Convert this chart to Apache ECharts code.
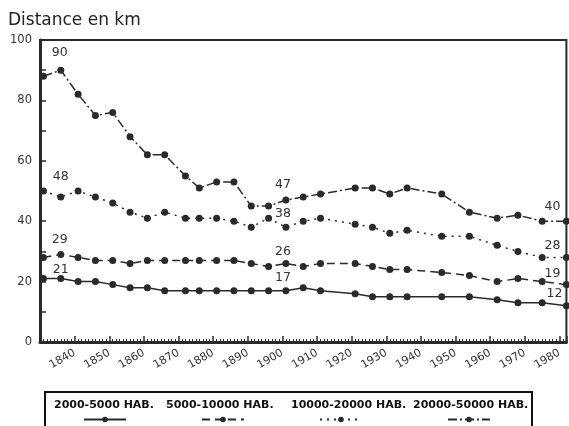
<!DOCTYPE html>
<html>
<head>
<meta charset="utf-8">
<script src="https://cdn.jsdelivr.net/npm/echarts@6/dist/echarts.min.js"></script>
<style>
html,body{margin:0;padding:0;background:#fff;}
#chart{width:569px;height:426px;}
</style>
</head>
<body>
<div id="chart"></div>
<script>
// Census years (x values)
const years = [1831,1836,1841,1846,1851,1856,1861,1866,1872,1876,1881,1886,1891,1896,1901,1906,1911,1921,1926,1931,1936,1946,1954,1962,1968,1975,1982];
// Series names
const seriesNames = ['2000-5000 HAB.', '5000-10000 HAB.', '10000-20000 HAB.', '20000-50000 HAB.'];
// Distance in km
const s2000_5000   = [21,21,20,20,19,18,18,17,17,17,17,17,17,17,17,18,17,16,15,15,15,15,15,14,13,13,12];
const s5000_10000  = [28,29,28,27,27,26,27,27,27,27,27,27,26,25,26,25,26,26,25,24,24,23,22,20,21,20,19];
const s10000_20000 = [50,48,50,48,46,43,41,43,41,41,41,40,38,41,38,40,41,39,38,36,37,35,35,32,30,28,28];
const s20000_50000 = [88,90,82,75,76,68,62,62,55,51,53,53,45,45,47,48,49,51,51,49,51,49,43,41,42,40,40];
// Tick labels
const yTickLabels = [0,20,40,60,80,100];
const xTickLabels = [1840,1850,1860,1870,1880,1890,1900,1910,1920,1930,1940,1950,1960,1970,1980];
// Indices of labelled points
const labelledIdx = [1, 14, 26];

const INK = '#2a2a2a';
const FONT = 'DejaVu Sans';

// label offsets per series (style only)
const labelOffsets = [
  [[0,-9],[-3,-13],[-12,-12]],
  [[-1,-15],[-3,-12],[-14,-11]],
  [[0,-20],[-3,-13],[-14,-12]],
  [[-1,-17],[-3,-15],[-14,-14]]
];
const dashTypes = ['solid', [8,5], [2,5], [9,3,2,3]];
const allValues = [s2000_5000, s5000_10000, s10000_20000, s20000_50000];

function buildData(vals, si) {
  return years.map((yr, i) => {
    const d = { value: [yr, vals[i]] };
    const k = labelledIdx.indexOf(i);
    if (k >= 0) {
      d.label = {
        show: true, position: 'inside', offset: labelOffsets[si][k],
        formatter: String(vals[i]), color: '#333', fontSize: 12.5, fontFamily: FONT
      };
    }
    return d;
  });
}

const series = allValues.map((vals, si) => ({
  name: seriesNames[si],
  type: 'line',
  data: buildData(vals, si),
  symbol: 'circle',
  symbolSize: 7,
  clip: false,
  itemStyle: { color: INK },
  lineStyle: { color: INK, width: 1.5, type: dashTypes[si] },
  label: { show: false },
  emphasis: { disabled: true },
  animation: false
}));

const textLeft = [48, 160, 285, 407];
const iconCenter = [104, 222, 340, 468];
const legends = [];
seriesNames.forEach((n, i) => {
  legends.push({
    data: [n], left: textLeft[i], top: 400, padding: 0,
    itemWidth: 0, itemHeight: 0, selectedMode: false,
    textStyle: { fontFamily: FONT, fontWeight: 'bold', fontSize: 11, color: '#111' }
  });
  legends.push({
    data: [n], left: iconCenter[i] - 21, top: 416, padding: 0,
    itemWidth: 42, itemHeight: 7, selectedMode: false,
    formatter: () => '',
    textStyle: { fontSize: 11 }
  });
});

const chart = echarts.init(document.getElementById('chart'), null, { renderer: 'canvas' });
chart.setOption({
  animation: false,
  backgroundColor: '#fff',
  title: {
    text: 'Distance en km', left: 8, top: 12, padding: 0,
    textStyle: { fontFamily: FONT, fontSize: 17, fontWeight: 'normal', color: '#222' }
  },
  grid: { left: 40, right: 2, top: 40, bottom: 84, show: true, borderColor: INK, borderWidth: 2, backgroundColor: 'transparent' },
  xAxis: {
    type: 'value', min: 1830, max: 1982, interval: 10,
    axisLine: { lineStyle: { color: INK, width: 3 } },
    axisTick: { inside: true, length: 6, lineStyle: { color: INK, width: 1.5 } },
    minorTick: { show: true, splitNumber: 10, length: 3, lineStyle: { color: INK, width: 1 } },
    splitLine: { show: false },
    axisLabel: {
      rotate: 30, margin: 10, fontSize: 11, fontFamily: FONT, color: '#333',
      formatter: v => xTickLabels.indexOf(v) >= 0 ? String(v) : ''
    }
  },
  yAxis: {
    type: 'value', min: 0, max: 100, interval: 10,
    axisLine: { show: true, lineStyle: { color: INK, width: 3 } },
    axisTick: { show: true, inside: true, length: 6, lineStyle: { color: INK, width: 1.5 } },
    splitLine: { show: false },
    axisLabel: {
      margin: 8, fontSize: 11.5, fontFamily: FONT, color: '#333',
      formatter: v => yTickLabels.indexOf(v) >= 0 ? String(v) : ''
    }
  },
  legend: legends,
  graphic: [{
    type: 'rect', silent: true, z: -1,
    shape: { x: 45, y: 392, width: 487, height: 40 },
    style: { fill: '#fff', stroke: '#111', lineWidth: 2 }
  }],
  series: series
});
</script>
</body>
</html>
